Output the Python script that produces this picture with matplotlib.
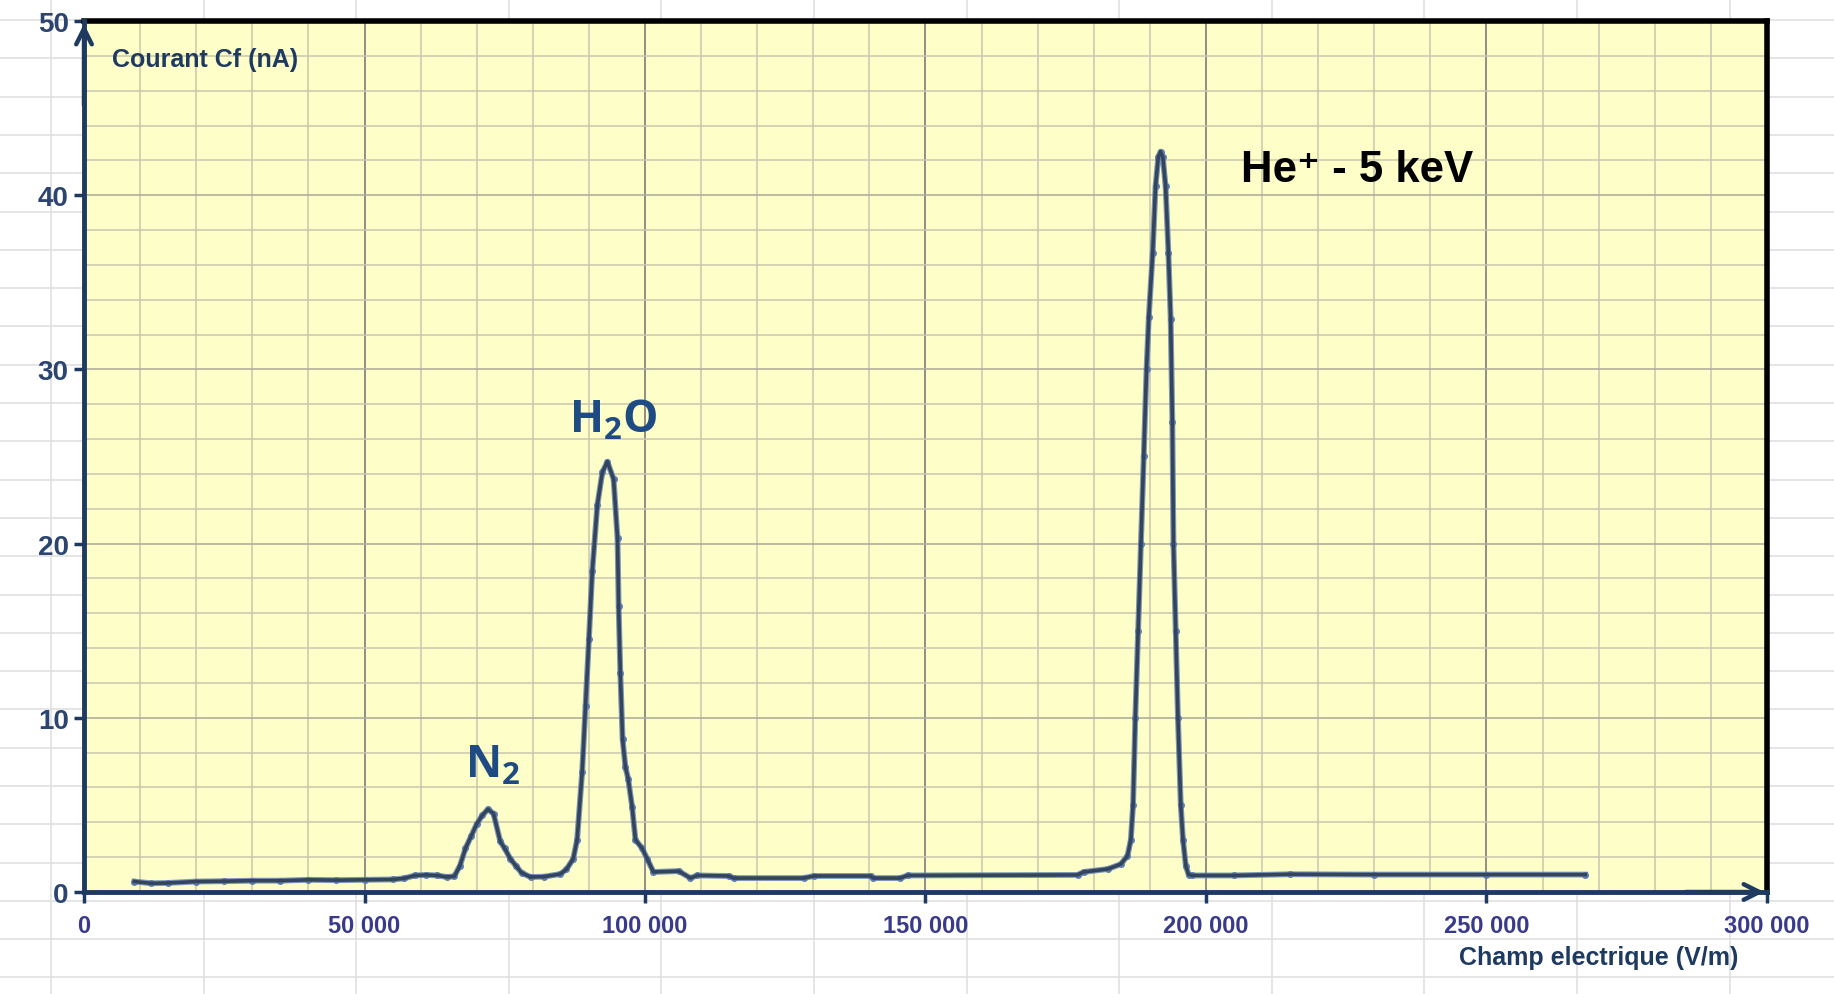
import matplotlib
matplotlib.use("Agg")
import matplotlib.pyplot as plt
from matplotlib.lines import Line2D
import numpy as np

plt.rcParams["mathtext.fontset"] = "custom"
plt.rcParams["mathtext.rm"] = "Open Sans:bold"
plt.rcParams["mathtext.bf"] = "Open Sans:bold"

# ---- data ----
field_vm = [9000, 12000, 15000, 20000, 25000, 30000, 35000, 40000, 45000, 50000,
            55000, 57000, 59000, 61000, 63000, 64700, 66000, 67000, 68000, 69000,
            70000, 71000, 72000, 73000, 74200, 75000, 76000, 77000, 78000, 79600,
            82000, 84900, 86000, 87200, 87900, 88800, 89400, 90000, 90600, 91500,
            92400, 93300, 94400, 95100, 95300, 95600, 96000, 96500, 97000, 97700,
            98300, 99500, 100400, 101500, 106000, 108100, 109300, 114900, 115800, 128300,
            130100, 140200, 140700, 145500, 146800, 177100, 178200, 182500, 184800, 186000,
            186600, 187000, 187400, 187900, 188400, 188900, 189400, 189800, 190500, 191000,
            191500, 191900, 192300, 192800, 193300, 193700, 194000, 194200, 194600, 195000,
            195500, 195900, 196400, 196900, 197500, 205000, 215000, 230000, 250000, 267600]
current_na = [0.6, 0.5, 0.52, 0.6, 0.62, 0.65, 0.65, 0.7, 0.68, 0.7,
              0.72, 0.78, 0.95, 0.98, 0.95, 0.86, 0.9, 1.5, 2.5, 3.2,
              3.9, 4.4, 4.75, 4.5, 2.9, 2.5, 1.9, 1.5, 1.1, 0.86,
              0.88, 1.03, 1.3, 1.9, 3.0, 6.9, 10.7, 14.5, 18.4, 22.2,
              24.1, 24.7, 23.7, 20.3, 16.4, 12.6, 8.8, 7.2, 6.5, 4.9,
              3.0, 2.5, 1.9, 1.15, 1.2, 0.8, 0.95, 0.92, 0.8, 0.8,
              0.92, 0.92, 0.8, 0.8, 0.95, 0.98, 1.15, 1.32, 1.6, 2.07,
              3.0, 5.0, 10.0, 15.0, 20.0, 25.0, 30.0, 33.0, 36.7, 40.5,
              42.2, 42.5, 42.2, 40.5, 36.7, 32.9, 27.0, 20.0, 15.0, 10.0,
              5.0, 3.0, 1.5, 1.0, 0.95, 0.95, 1.02, 1.0, 1.0, 1.0]

x_ticks = [0, 50000, 100000, 150000, 200000, 250000, 300000]
y_ticks = [0, 10, 20, 30, 40, 50]
x_tick_labels = [f"{v:,}".replace(",", " ") for v in x_ticks]
y_tick_labels = [str(v) for v in y_ticks]

peak_labels = [r"N$_{\mathbf{2}}$", r"H$_{\mathbf{2}}$O"]
peak_pos = [(72800, 7.3), (94300, 27.1)]
title_text = "He\u207a - 5 keV"
y_label = "Courant Cf (nA)"
x_label = "Champ electrique (V/m)"

# ---- figure ----
W, H = 1834, 995
fig = plt.figure(figsize=(W / 100, H / 100), dpi=100)
fig.patch.set_facecolor("white")

# spreadsheet cell grid in the background
for k in range(27):
    yy = 21 + 38.3 * k
    if yy < H:
        fig.add_artist(Line2D([0, 1], [1 - yy / H] * 2, transform=fig.transFigure,
                              color="#e0e0e0", lw=1.2, zorder=0))
for k in range(13):
    xx = 51 + 152.6 * k
    if xx < W:
        fig.add_artist(Line2D([xx / W] * 2, [0, 1], transform=fig.transFigure,
                              color="#e0e0e0", lw=1.2, zorder=0))

left, right, top, bottom = 84, 1767, 22, 893
ax = fig.add_axes([left / W, 1 - bottom / H, (right - left) / W, (bottom - top) / H])
ax.set_facecolor("#fefec8")
ax.set_xlim(0, 300000)
ax.set_ylim(0, 50)

ax.set_xticks(x_ticks)
ax.set_xticklabels(x_tick_labels)
ax.set_yticks(y_ticks)
ax.set_yticklabels(y_tick_labels)
ax.set_xticks(np.arange(0, 300001, 10000), minor=True)
ax.set_yticks(np.arange(0, 51, 2), minor=True)

ax.grid(which="minor", color="#c9c7ae", lw=1.1, zorder=0)
ax.grid(which="major", axis="x", color="#8f8e86", lw=1.4, zorder=0)
ax.grid(which="major", axis="y", color="#b0ae9a", lw=1.2, zorder=0)
ax.set_axisbelow(True)

ax.tick_params(which="minor", length=0)
ax.tick_params(axis="x", which="major", length=8, width=2.5, color="#1f3a60",
               labelsize=17, labelcolor="#3a3a8a", pad=8, direction="out")
ax.tick_params(axis="y", which="major", length=7, width=2.5, color="#1f3a60",
               labelsize=20, labelcolor="#2c4470", pad=4, direction="out")
for lab in ax.get_xticklabels() + ax.get_yticklabels():
    lab.set_fontfamily("Liberation Sans")
    lab.set_fontweight("bold")

for side in ["top", "right"]:
    ax.spines[side].set_color("black")
    ax.spines[side].set_linewidth(4)
for side in ["left", "bottom"]:
    ax.spines[side].set_color("#1f3a60")
    ax.spines[side].set_linewidth(3.5)
    ax.spines[side].set_zorder(5)

# arrows at ends of axes
ax.annotate("", xy=(0, 1.0), xytext=(0, 0.9), xycoords="axes fraction",
            arrowprops=dict(arrowstyle="->", color="#1f3a60", lw=3.2, mutation_scale=28),
            zorder=6, annotation_clip=False)
ax.annotate("", xy=(1.0, 0), xytext=(0.95, 0), xycoords="axes fraction",
            arrowprops=dict(arrowstyle="->", color="#1f3a60", lw=3.2, mutation_scale=28),
            zorder=6, annotation_clip=False)

# data: dots + line
ax.plot(field_vm, current_na, color="#5b7db3", lw=4.2, alpha=0.8, zorder=3)
ax.plot(field_vm, current_na, linestyle="none", marker="o", markersize=4,
        color="#5b7db3", zorder=3)
ax.plot(field_vm, current_na, color="#34445a", lw=2.6, zorder=4)

# texts
ax.text(5000, 47.8, y_label, ha="left", va="center", fontsize=18,
        fontweight="bold", color="#1f3a60", family="Liberation Sans")
ax.text(0.983, -0.075, x_label, transform=ax.transAxes, ha="right", va="center",
        fontsize=18, fontweight="bold", color="#1f3a60", family="Liberation Sans")
for lab, (px, py) in zip(peak_labels, peak_pos):
    ax.text(px, py, lab, ha="center", va="center", fontsize=32, fontweight="bold",
            color="#1f4b85", family=["Open Sans", "DejaVu Sans"])
ax.text(206200, 41.5, title_text, ha="left", va="center", fontsize=31.5,
        fontweight="bold", color="black", family=["Liberation Sans", "DejaVu Sans"])

fig.savefig("out.png", dpi=100, facecolor="white")
